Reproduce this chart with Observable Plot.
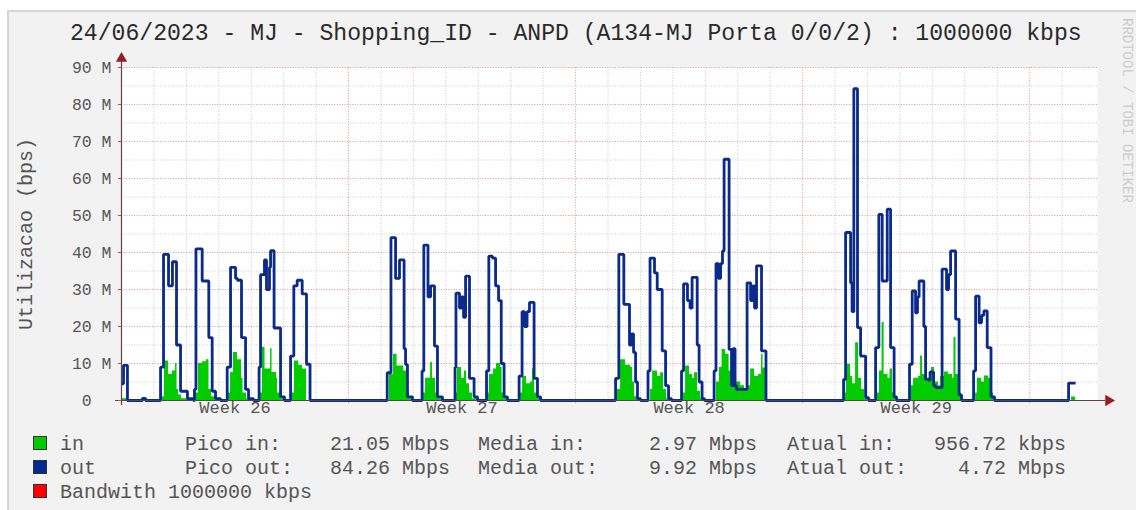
<!DOCTYPE html>
<html><head><meta charset="utf-8">
<script src="https://cdn.jsdelivr.net/npm/d3@7"></script>
<script src="https://cdn.jsdelivr.net/npm/@observablehq/plot@0.6"></script>
<style>
html,body{margin:0;padding:0;background:#fff;}
#wrap{position:relative;width:1136px;height:510px;overflow:hidden;background:#fff;font-family:"Liberation Mono",monospace;}
#panel{position:absolute;left:7px;top:10px;right:0;bottom:0;background:#f2f2f2;border-left:2px solid #d6d6d6;border-top:2px solid #d6d6d6;}
#chart{position:absolute;left:0;top:0;}
#title{position:absolute;left:70px;top:19px;font-size:23.1px;line-height:30px;color:#2a2a2a;white-space:pre;}
.lg{position:absolute;font-size:20px;line-height:24px;color:#555;white-space:pre;}
.box{position:absolute;width:12px;height:12px;border:1px solid #333;}
#wm{position:absolute;left:1134px;top:18px;transform-origin:0 0;transform:rotate(90deg);font-size:14px;line-height:15px;color:#cdcdcd;white-space:pre;}
</style></head>
<body><div id="wrap"><div id="panel"></div></div>
<script>
// ---- data (time in hours from start of graph, values in Mbps) ----
const titleText = "24/06/2023 - MJ - Shopping_ID - ANPD (A134-MJ Porta 0/0/2) : 1000000 kbps";
const yLabel = "Utilizacao (bps)";
const watermark = "RRDTOOL / TOBI OETIKER";
const yTicks = [0,10,20,30,40,50,60,70,80,90];
const weekLabels = ["Week 26","Week 27","Week 28","Week 29"];
const weekMidHours = [84, 252, 420, 588];

const outWeek26 = [[0,4.5],[1.5,9.5],[4.4,0],[15.5,0.6],[17.8,0],
 [28.9,9],[31.1,39.5],[34.8,31],[37.7,37.5],[40.7,15],[43.7,2.5],[48.8,0.5],[53.3,0],
 [54,3],[55.1,41],[59.7,32.3],[64.6,17],[67.1,2.5],[69.6,0.5],[73.3,0],
 [78.2,9],[80.7,36],[84.4,33],[85.8,32.5],[88.8,17],[91.8,3],[94,0.5],[97.7,0],
 [101.8,9],[102.9,34],[105.8,38],[107.3,30],[109.5,36],[110.3,40.5],[112.9,19.6],[117.7,1],[120.6,0],
 [125.1,12],[127.5,31],[130,32.5],[133.7,28.8],[136.9,9.8],[139.5,0]];
const outWeek27 = [[196.6,7.5],[199.4,44],[202.8,33],[205.7,38],[209.1,14],[210.2,9.7],[211.6,1],[215.3,0],
 [222.4,8],[223.7,42],[226.8,28],[228.7,31],[231.6,14.7],[233.8,1],[237.5,0],
 [246.8,9],[247.5,29],[250.1,25],[251.6,28],[253.1,22.5],[254.6,33.6],[257.5,6],[260.9,1],[263.4,0],
 [270.1,8],[271.8,39],[274.5,38.5],[276.8,31],[279,27],[281,10],[283.1,1],[285.6,0],
 [294.2,6.6],[296.4,24],[298.2,20],[300.1,24],[301.9,26.5],[305.3,6],[307.8,1],[310.1,0]];
const outWeek28 = [[365.6,6],[368,39.5],[371.7,26],[375.9,15],[377.4,18],[378.9,13],[380.4,5],[381.8,0.5],[384.1,0],
 [389.6,8],[391.1,38.5],[394.4,34.5],[396.4,30],[400.1,13.4],[402.6,4],[404.8,0.5],[407,0],
 [414.4,8],[415.9,31.5],[418.8,27],[420.7,25],[422.2,33.3],[426,15],[427.4,5],[429.6,0.5],[431.4,0],
 [438.5,8],[439.9,37],[441.8,33],[443.3,37],[444.7,40.4],[445.9,65.2],[449.6,13.8],[451.4,4],[452.5,14],[454,4],[455.1,3],
 [462.9,31.8],[465.5,27],[467,31],[468.4,25],[469.9,36.4],[473.6,13.4],[476.9,0]];
const outWeek29 = [[534.3,5.7],[535.8,45.4],[539.5,31.8],[540.6,24],[541.9,84.26],[544.6,19.7],[546.9,12],[550.6,0.8],[552.8,0],
 [558,14.3],[560.4,50.3],[562.9,32.3],[566.6,51.7],[569.1,14.3],[571.7,1],[573.5,0],
 [583.1,9.8],[585.1,29.6],[587.6,23.7],[589,28],[590.2,32.3],[593.7,20],[595,5.7],[597.2,5.5],[598.3,7.7],[600.9,4],[602.4,3.5],
 [607.2,35.5],[610.5,30],[612,34],[613.5,40.4],[617.2,22],[619.8,1.5],[621.6,0],
 [630.5,8],[632,28.2],[634.6,21],[636.4,23],[638.1,24.2],[640.6,14.3],[643.4,1],[646,0],
 [700.8,4.72],[706,4.72]];

const inWeek26 = [[0,0.5],[4.4,0],
 [29.6,1],[31.8,10.7],[34.8,7],[37.7,8],[40,10],[41.1,3],[42.2,1.5],[44.4,0.5],[51.1,0],
 [54.8,2],[57,10],[59.9,10.5],[62.9,11],[64.75,3],[66.6,1],[69.6,0],
 [78.4,2],[80.7,7.6],[82.9,13],[85.8,11],[88.8,6],[89.9,2],[92.5,0.5],[95.5,0],
 [102.1,2],[104.3,14.3],[106.2,8.5],[110.3,14],[111.4,7.6],[114.7,6],[115.4,2],[117.7,0.5],[120.6,0],
 [126.5,2],[128,10.7],[131,9.5],[133.9,8.5],[136.9,0]];
const inWeek27 = [[198.3,7],[201.3,12.5],[203.9,9.3],[208.7,8],[210.9,2],[213.1,0.5],[215.3,0],
 [222.7,2],[225,6],[228.7,10.3],[230.1,6],[232.4,2],[234.6,0.5],[237.5,0],
 [247.2,2],[248.6,8.9],[251.6,6],[253.8,8],[255.3,4.5],[257.5,2],[259.7,0.5],[262.7,0],
 [270.8,2],[272.3,7],[275.3,8.5],[277.5,10],[280.5,9],[281.6,2],[283.4,0.5],[285.6,0],
 [295.3,2],[296.8,6.5],[299.7,4.5],[302.7,5],[304.1,8.5],[305.6,2],[307.8,0.5],[310.1,0]];
const inWeek28 = [[367,3],[369.3,11],[373,9.5],[376.7,9],[378.1,5],[379.6,1],[381.8,0],
 [391.5,3],[393,8],[396.6,6.5],[398.9,7.5],[401.1,3],[403.3,0.5],[405.5,0],
 [415.1,2],[417.4,9.3],[420.3,7],[422.5,6],[424,7.5],[426.2,2.5],[428.5,0.5],[430.7,0],
 [440.3,5],[442.5,9],[444.4,13.8],[447,12.5],[449.6,8],[452.2,6.5],[455.1,5],[458.1,4],[461,3],
 [462.9,4],[465.5,8.5],[468.4,6.5],[471.4,7],[473.6,12.5],[474.7,8.8],[476.9,0]];
const inWeek29 = [[535,2],[536.5,9.8],[539.5,6.5],[541,4.5],[543.2,15.6],[545.4,6],[547.6,3],[549.8,0.5],[552,0],
 [559.1,2],[560.9,8],[562.8,21.05],[564.3,7],[567.2,6],[568.7,8.5],[570.5,2],[572.8,0],
 [583.9,4],[586.1,6],[589.8,6.5],[591.3,12],[592.7,7],[595.7,6],[597.9,7],[599.4,8.9],[601.6,5],[604.6,4],
 [606.1,6.5],[609,7.7],[612,7],[614.9,6],[616,17],[617.5,7],[619.4,2],[621.6,0],
 [632,2],[633.4,6],[636.4,5],[638.6,6.6],[641.6,6],[643.1,2],[645.3,0],
 [703,0.96],[706,0.96]];

const legendNames = ["in","out","Bandwith 1000000 kbps"];
const legendColors = ["#00cc00","#002a8f","#ff0000"];
const picoLabels = ["Pico in:","Pico out:"];
const picoValues = ["21.05 Mbps","84.26 Mbps"];
const mediaLabels = ["Media in:","Media out:"];
const mediaValues = ["2.97 Mbps","9.92 Mbps"];
const atualLabels = ["Atual in:","Atual out:"];
const atualValues = ["956.72 kbps","4.72 Mbps"];

// ---- build ----
const toRows = a => a.map(([h, v]) => ({h, v}));
const outData = toRows([...outWeek26, ...outWeek27, ...outWeek28, ...outWeek29]);
const inData = toRows([...inWeek26, ...inWeek27, ...inWeek28, ...inWeek29]);
const weekData = weekLabels.map((t, i) => ({t, h: weekMidHours[i]}));
const dayLines = d3.range(24, 720, 24).filter(h => h % 168 !== 0);
const weekLines = d3.range(168, 722, 168);
const minorY = d3.range(5, 90, 10);
const majorY = d3.range(10, 91, 10);
const dotted = "1,1.6";

const chart = Plot.plot({
  width: 1136, height: 420,
  marginLeft: 121, marginRight: 39, marginTop: 67, marginBottom: 20,
  style: {background: "transparent", fontFamily: "Liberation Mono, monospace", overflow: "visible"},
  x: {type: "linear", domain: [0, 722.2], axis: null},
  y: {domain: [0, 90]},
  marks: [
    Plot.frame({fill: "white", stroke: "none"}),
    Plot.ruleX(dayLines, {stroke: "#c9c9c9", strokeDasharray: dotted}),
    Plot.ruleY(minorY, {stroke: "#c9c9c9", strokeDasharray: dotted}),
    Plot.ruleX(weekLines, {stroke: "#e98f8f", strokeDasharray: dotted, insetBottom: -5}),
    Plot.ruleY(majorY, {stroke: "#e98f8f", strokeDasharray: dotted}),
    Plot.areaY(inData, {x: "h", y: "v", curve: "step-after", fill: "#00cc00"}),
    Plot.line(outData, {x: "h", y: "v", curve: "step-after", stroke: "#0a2a8c", strokeWidth: 2.8, strokeLinejoin: "miter", strokeLinecap: "butt"}),
    Plot.ruleY([0], {stroke: "#5a4545", strokeWidth: 1.2, insetLeft: -6, insetRight: -8}),
    Plot.ruleX([0], {stroke: "#5a4545", strokeWidth: 1.2, insetTop: -8, insetBottom: -5}),
    Plot.dot([0], {frameAnchor: "top-left", dy: -9, symbol: "triangle", r: 4.2, fill: "#9b1c1c", stroke: "none"}),
    Plot.dot([0], {frameAnchor: "bottom-right", dx: 11, symbol: "triangle", rotate: 90, r: 4.2, fill: "#9b1c1c", stroke: "none"}),
    Plot.axisY({anchor: "left", ticks: yTicks, tickFormat: d => d === 0 ? "0\u00a0\u00a0" : d + " M",
      tickSize: 3, tickPadding: 7, stroke: "#d44", fill: "#555", fontSize: 16.5, label: null}),
    Plot.text(weekData, {x: "h", text: "t", frameAnchor: "bottom", dy: 12, fontSize: 17, fill: "#555"}),
    Plot.text([yLabel], {frameAnchor: "left", textAnchor: "middle", dx: -96, rotate: -90, fontSize: 20, fill: "#555"})
  ]
});
chart.id = "chart";
const wrap = document.getElementById("wrap");
wrap.appendChild(chart);

const title = document.createElement("div");
title.id = "title"; title.textContent = titleText; wrap.appendChild(title);
const wm = document.createElement("div");
wm.id = "wm"; wm.textContent = watermark; wrap.appendChild(wm);

function addText(txt, left, top, right) {
  const d = document.createElement("div");
  d.className = "lg"; d.textContent = txt; d.style.top = top + "px";
  if (right !== undefined) d.style.right = right + "px"; else d.style.left = left + "px";
  wrap.appendChild(d);
}
const rowTops = [433, 457, 481];
legendNames.forEach((n, i) => {
  const b = document.createElement("div");
  b.className = "box"; b.style.left = "33px"; b.style.top = (rowTops[i] + 3) + "px";
  b.style.background = legendColors[i]; wrap.appendChild(b);
  addText(n, 60, rowTops[i]);
});
[0, 1].forEach(i => {
  addText(picoLabels[i], 185, rowTops[i]);
  addText(picoValues[i], null, rowTops[i], 1136 - 450);
  addText(mediaLabels[i], 478, rowTops[i]);
  addText(mediaValues[i], null, rowTops[i], 1136 - 757);
  addText(atualLabels[i], 787, rowTops[i]);
  addText(atualValues[i], null, rowTops[i], 1136 - 1066);
});
</script></body></html>
